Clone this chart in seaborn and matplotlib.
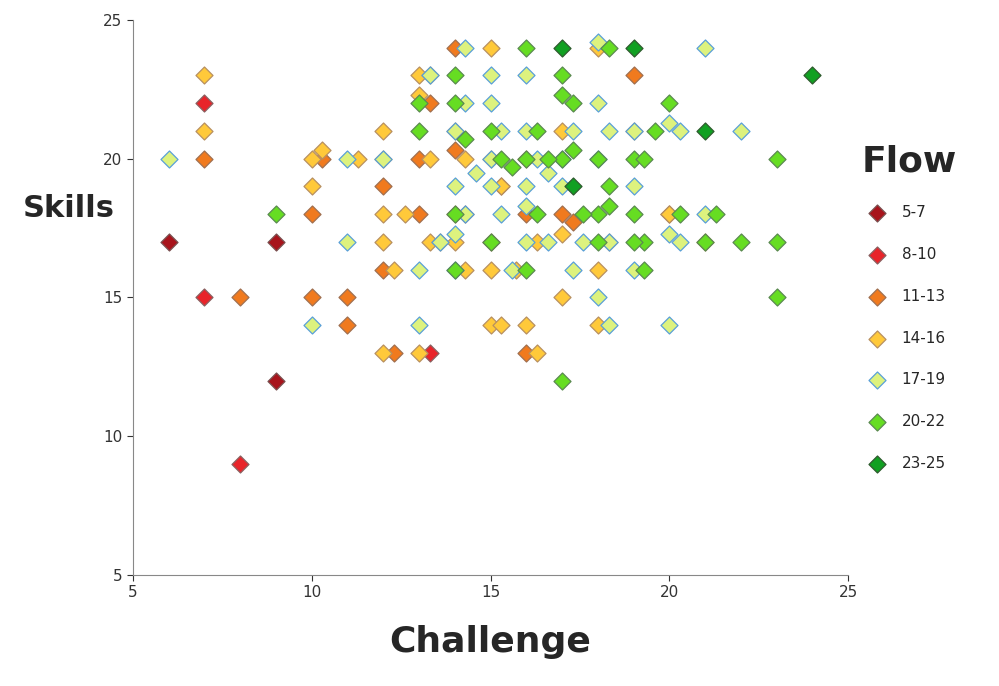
import pandas as pd
import matplotlib.pyplot as plt
import seaborn as sns

groups = ['5-7', '8-10', '11-13', '14-16', '17-19', '20-22', '23-25']
colors = ['#A8141C', '#E8242A', '#F07A1E', '#FFC93A', '#DDF27E', '#66DD22', '#11A022']
edges = ['#7A5050', '#8A6060', '#A07050', '#B89060', '#5AA0D8', '#5A8A50', '#2E5A2E']

points = {
    '5-7': [(6, 17), (9, 17), (9, 12)],
    '8-10': [(7, 22), (7, 15), (8, 9), (13.3, 13)],
    '11-13': [(7, 20), (8, 15), (10, 18), (10, 15), (11, 15), (11, 14), (10.3, 20), (13, 20),
              (13, 18), (12.3, 13), (14, 24), (19, 23), (12, 19), (14, 20.3), (16, 13), (14.3, 18),
              (15, 17), (15.3, 19), (13.3, 22), (20, 18), (16, 18), (17, 18), (12, 16), (17.3, 17.7)],
    '14-16': [(7, 23), (7, 21), (10, 20), (10, 19), (10.3, 20.3), (11.3, 20), (12, 21), (12, 20),
              (12, 18), (12, 17), (12.3, 16), (12, 13), (13, 23), (13.3, 23), (13, 22.3), (13.3, 17),
              (13, 13), (14, 21), (14, 17), (14.3, 20), (15, 24), (15, 20), (15, 16), (15, 14),
              (15.3, 14), (15.3, 19), (14.3, 16), (13.6, 17), (16, 14), (16.3, 13), (16, 20), (17, 21),
              (17, 15), (18, 16), (18, 14), (18, 24), (19, 21), (20, 18), (21, 17), (18.3, 17),
              (16.3, 17), (17, 17.3), (15.7, 16), (14, 18), (12.6, 18), (13.3, 20)],
    '17-19': [(6, 20), (10, 14), (11, 17), (11, 20), (13, 14), (12, 20), (13, 16), (13.3, 23),
              (14, 19), (14, 17.3), (14.3, 24), (14.3, 22), (14.3, 18), (14, 16), (15, 23), (15, 22),
              (15, 19), (15.3, 21), (15.3, 18), (15.6, 16), (15, 20), (16, 23), (16, 21), (16, 19),
              (16, 17), (16.3, 20), (16.6, 19.5), (16.6, 17), (17, 19), (17, 20), (17.3, 21), (17.3, 16),
              (18, 24.2), (18, 22), (18, 20), (18, 15), (18.3, 14), (18.3, 21), (18.3, 17), (19, 21),
              (19, 19), (19, 16), (20, 21.3), (20, 17.3), (20, 14), (20.3, 21), (21, 24), (21, 18),
              (22, 21), (20.3, 17), (17.6, 17), (14.6, 19.5), (13.6, 17), (14, 21), (16, 18.3)],
    '20-22': [(9, 18), (13, 22), (13, 21), (14, 23), (14, 22), (14, 18), (14, 16), (15, 21),
              (15, 17), (15.3, 20), (15.6, 19.7), (16, 24), (16, 20), (16, 16), (16.3, 21), (16.3, 18),
              (17, 23), (17, 22.3), (17, 20), (17, 12), (17.3, 22), (17.3, 20.3), (18, 18), (18, 20),
              (18.3, 19), (18.3, 24), (18, 17), (19, 20), (19, 18), (19.3, 20), (19.3, 17), (19, 17),
              (19.3, 16), (20, 22), (20.3, 18), (21, 17), (21.3, 18), (22, 17), (23, 20), (23, 17),
              (23, 15), (17.6, 18), (16.6, 20), (14.3, 20.7), (18.3, 18.3), (19.6, 21)],
    '23-25': [(17, 24), (19, 24), (21, 21), (24, 23), (17.3, 19)],
}

rows = [(g, x, y) for g in groups for x, y in points[g]]
df = pd.DataFrame(rows, columns=['Flow', 'Challenge', 'Skills'])

sns.set_style('white')
fig = plt.figure(figsize=(9.99, 6.86), dpi=100)
ax = fig.add_axes([0.133, 0.162, 0.716, 0.809])

for g, c, e in zip(groups, colors, edges):
    sns.scatterplot(data=df[df['Flow'] == g], x='Challenge', y='Skills', ax=ax,
                    marker='D', s=75, color=c, edgecolor=e, linewidth=0.9, label=g)

ax.set_xlim(5, 25)
ax.set_ylim(5, 25)
ax.set_xticks([5, 10, 15, 20, 25])
ax.set_yticks([5, 10, 15, 20, 25])
ax.tick_params(labelsize=11, colors='#333333', length=4, direction='out', left=True, bottom=True)
sns.despine(ax=ax)
for sp in ['left', 'bottom']:
    ax.spines[sp].set_color('#888888')

ax.set_xlabel('Challenge', fontsize=26, fontweight='bold', labelpad=18)
ax.set_ylabel('Skills', fontsize=22, fontweight='bold', rotation=0, ha='center', va='center')
ax.yaxis.set_label_coords(-0.09, 0.66)

leg = ax.legend(title='Flow', loc='upper left', bbox_to_anchor=(1.0, 0.8), frameon=False,
                fontsize=11, handletextpad=0.6, labelspacing=1.75, alignment='left')
leg.get_title().set_fontsize(26)
leg.get_title().set_fontweight('bold')

fig.savefig('out.png', dpi=100)
